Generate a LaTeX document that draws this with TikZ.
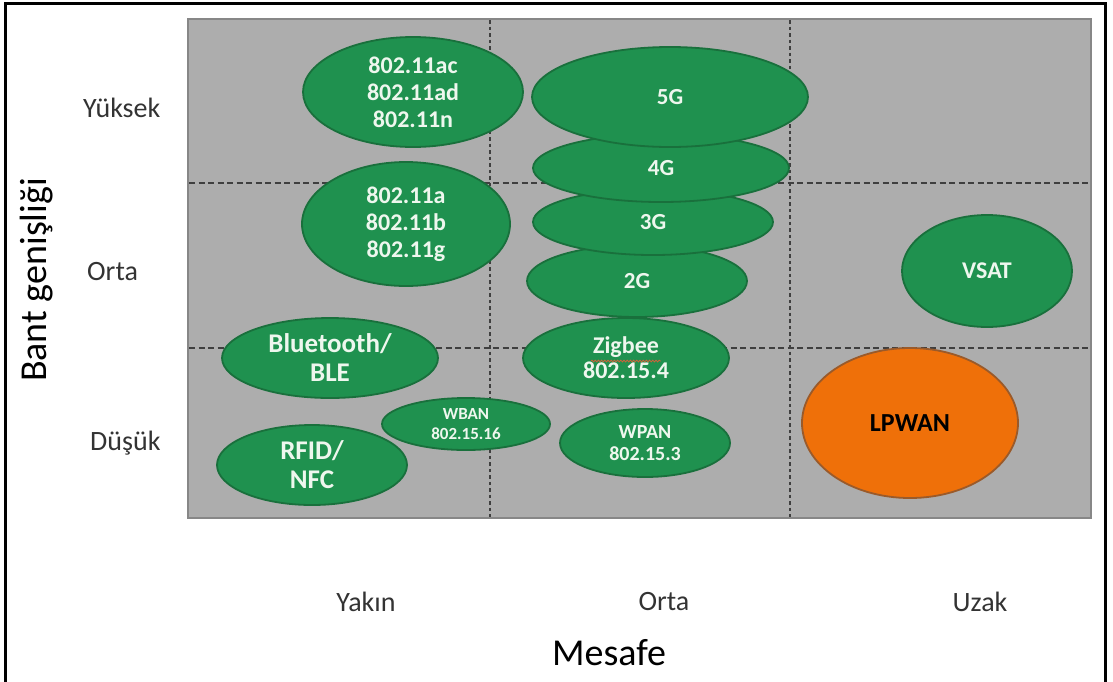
\documentclass[tikz,border=0pt]{standalone}
\usepackage{fontspec}
\setmainfont{Carlito}
\usetikzlibrary{shapes.geometric,decorations.pathmorphing}

\definecolor{panelfill}{HTML}{ADADAD}
\definecolor{panelline}{HTML}{878787}
\definecolor{gridline}{HTML}{3F3F3F}
\definecolor{blobgreen}{HTML}{1F914F}
\definecolor{blobedge}{HTML}{19703C}
\definecolor{blobtext}{HTML}{EEF7EE}
\definecolor{lpfill}{HTML}{EF7009}
\definecolor{lpedge}{HTML}{9A5A2A}
\definecolor{axistext}{HTML}{333333}
\definecolor{squiggle}{HTML}{D2603A}

\newcommand{\fsz}[2]{\fontsize{#1}{#2}\selectfont}

\begin{document}
\begin{tikzpicture}[x=1pt,y=-1pt,
  panel/.style={draw=panelline, fill=panelfill, line width=2.5pt},
  hgrid/.style={draw=gridline, line width=2.4pt, dash pattern=on 6pt off 3.5pt},
  vgrid/.style={draw=gridline, line width=2.4pt, dash pattern=on 3.5pt off 3pt},
  blob/.style={ellipse, draw=blobedge, fill=blobgreen, line width=1.8pt,
    inner sep=0pt, align=center, text=blobtext},
  hot/.style={ellipse, draw=lpedge, fill=lpfill, line width=1.8pt,
    inner sep=0pt, align=center, text=black},
  wifi/.style={font=\bfseries\fsz{24}{27}},
  cell/.style={font=\bfseries\fsz{23}{26}},
  large/.style={font=\bfseries\fsz{27}{29}},
  mid/.style={font=\bfseries\fsz{24}{25}},
  pan/.style={font=\bfseries\fsz{20}{22}},
  ban/.style={font=\bfseries\fsz{17}{20}},
  level/.style={inner sep=0pt, text=axistext, font=\fsz{28}{30}},
  axis/.style={inner sep=0pt, text=black, font=\fsz{38}{40}}
]
\useasboundingbox (0,0) rectangle (1113,681);

% outer frame
\draw[line width=2.5pt] (5.5,3.5) rectangle (1105.5,686);

% chart area and dashed grid
\draw[panel] (188,19) rectangle (1091,518);
\draw[hgrid] (189,183) -- (1090,183);
\draw[hgrid] (189,348) -- (1090,348);
\draw[vgrid] (490,20) -- (490,517);
\draw[vgrid] (790,20) -- (790,517);

% short range
\node[blob, wifi, minimum width=220pt, minimum height=110pt] (wac) at (413,92)
  {802.11ac\\802.11ad\\802.11n};
\node[blob, wifi, minimum width=208pt, minimum height=124pt] (wa) at (406,224)
  {802.11a\\802.11b\\802.11g};
\node[blob, large, minimum width=216pt, minimum height=80pt] (bt) at (330,358)
  {Bluetooth/\\BLE};
\node[blob, ban, minimum width=168pt, minimum height=52pt] (wban) at (466,424)
  {WBAN\\802.15.16};
\node[blob, large, minimum width=190pt, minimum height=80pt] (rfid) at (312,465)
  {RFID/\\NFC};

% medium range, cellular stack drawn bottom up
\node[blob, cell, minimum width=220pt, minimum height=72pt] (g2) at (637,281) {2G};
\node[blob, cell, minimum width=240pt, minimum height=66pt] (g3) at (653,222) {3G};
\node[blob, cell, minimum width=256pt, minimum height=68pt] (g4) at (661,168) {4G};
\node[blob, cell, minimum width=276pt, minimum height=100pt] (g5) at (670,97) {5G};
\node[blob, mid, minimum width=206pt, minimum height=80pt] (zig) at (626,358)
  {Zigbee\\802.15.4};
\node[blob, pan, minimum width=170pt, minimum height=68pt] (wpan) at (645,443)
  {WPAN\\802.15.3};
\draw[squiggle, line width=0.8pt, decorate,
  decoration={snake, amplitude=0.9pt, segment length=3.2pt}]
  ([xshift=-35pt,yshift=-3pt]zig.center) -- ([xshift=35pt,yshift=-3pt]zig.center);

% long range
\node[blob, font=\bfseries\fsz{24}{26}, minimum width=170pt, minimum height=112pt]
  (vsat) at (987,271) {VSAT};
\node[hot, font=\bfseries\fsz{26}{28}, minimum width=216pt, minimum height=150pt]
  (lpwan) at (910,423) {LPWAN};

% bandwidth levels
\node[level, anchor=west] (yuksek) at (83,108) {Yüksek};
\node[level, anchor=west] (orta1) at (87,272) {Orta};
\node[level, anchor=west] (dusuk) at (90,443) {Düşük};
\node[axis, rotate=90] (bant) at (37,280) {Bant genişliği};

% distance levels
\node[level] (yakin) at (366,602) {Yakın};
\node[level] (orta2) at (664,602) {Orta};
\node[level] (uzak) at (980,602) {Uzak};
\node[axis] (mesafe) at (609,653) {Mesafe};
\end{tikzpicture}
\end{document}
